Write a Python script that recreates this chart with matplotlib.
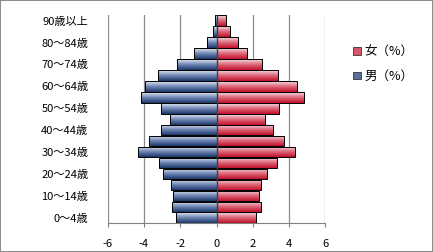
import matplotlib
matplotlib.use("Agg")
import matplotlib.pyplot as plt
import numpy as np
from matplotlib.colors import LinearSegmentedColormap
from matplotlib.patches import Patch

plt.rcParams['font.family'] = ['Noto Sans CJK JP', 'DejaVu Sans']

# age groups, bottom to top
ages = ['0～4歳', '5～9歳', '10～14歳', '15～19歳', '20～24歳', '25～29歳',
        '30～34歳', '35～39歳', '40～44歳', '45～49歳', '50～54歳', '55～59歳',
        '60～64歳', '65～69歳', '70～74歳', '75～79歳', '80～84歳', '85～89歳',
        '90歳以上']
male = [2.23, 2.43, 2.38, 2.49, 2.93, 3.15, 4.31, 3.70, 3.04, 2.54, 3.04, 4.16,
        3.94, 3.21, 2.16, 1.22, 0.55, 0.22, 0.10]
female = [2.16, 2.43, 2.32, 2.43, 2.77, 3.32, 4.32, 3.71, 3.10, 2.65, 3.45, 4.83,
          4.45, 3.39, 2.49, 1.66, 1.16, 0.72, 0.50]
xticks = [-6, -4, -2, 0, 2, 4, 6]

blue_cm = LinearSegmentedColormap.from_list('b', ['#1c3669', '#6f86b4', '#e4e9f3'])
red_cm = LinearSegmentedColormap.from_list('r', ['#c0102a', '#de6679', '#f3dde2'])

fig = plt.figure(figsize=(4.33, 2.52), dpi=100, edgecolor='#8c8c8c', linewidth=1.2)
ax = fig.add_axes([0.249, 0.114, 0.502, 0.826])

y = np.arange(len(ages))
grad = np.linspace(0, 1, 64).reshape(-1, 1)


def grad_bars(vals, cmap):
    bars = ax.barh(y, vals, height=0.97, color='none', edgecolor='black',
                   linewidth=0.7, zorder=3)
    for b in bars:
        x0, y0 = b.get_x(), b.get_y()
        w, h = b.get_width(), b.get_height()
        im = ax.imshow(grad, cmap=cmap, aspect='auto', zorder=2,
                       extent=[x0, x0 + w, y0 + h, y0], interpolation='bilinear')
        im.set_clip_path(b)
    return bars


grad_bars(-np.array(male), blue_cm)
grad_bars(female, red_cm)

ax.set_xlim(-6, 6)
ax.set_ylim(-0.5, len(ages) - 0.5)
ax.set_xticks(xticks)
ax.set_xticklabels([str(v) for v in xticks], fontsize=8)
ax.set_yticks(y)
ax.set_yticklabels([a if i % 2 == 0 else '' for i, a in enumerate(ages)], fontsize=8)
ax.tick_params(axis='y', length=0, pad=14)
ax.tick_params(axis='x', length=3, color='#808080', pad=8)
ax.grid(axis='x', color='#8c8c8c', linewidth=0.9, zorder=0)
ax.set_axisbelow(True)
for s in ['top', 'right', 'left']:
    ax.spines[s].set_visible(False)
ax.spines['bottom'].set_color('#808080')
ax.axvline(0, color='#404040', linewidth=1.0, zorder=4)

handles = [Patch(facecolor='#d9566a', edgecolor='#333333', linewidth=0.6),
           Patch(facecolor='#5c6f9a', edgecolor='#333333', linewidth=0.6)]
fig.legend(handles, ['女（%）', '男（%）'], loc='center left',
           bbox_to_anchor=(0.79, 0.745), frameon=False, fontsize=9,
           handlelength=0.6, handleheight=0.6, handletextpad=0.3,
           labelspacing=0.9)

fig.savefig('out.png', dpi=100, edgecolor=fig.get_edgecolor())
